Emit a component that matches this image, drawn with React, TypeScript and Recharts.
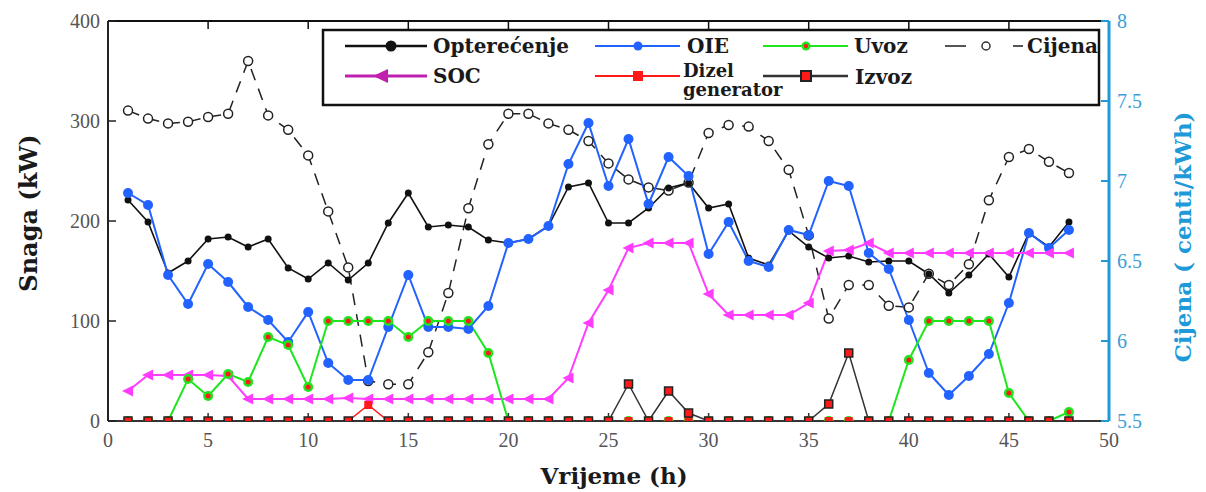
import React from "react";
import { ComposedChart, Line, XAxis, YAxis } from "recharts";

// sati (h)
const hours = [
  1, 2, 3, 4, 5, 6, 7, 8, 9, 10, 11, 12, 13, 14, 15, 16, 17, 18, 19, 20, 21, 22, 23, 24,
  25, 26, 27, 28, 29, 30, 31, 32, 33, 34, 35, 36, 37, 38, 39, 40, 41, 42, 43, 44, 45, 46, 47, 48,
];

// kW
const opterecenje = [
  221, 199, 148, 160, 182, 184, 174, 182, 153, 142, 158, 141, 158, 198, 228, 194, 196, 194, 181, 178, 182, 195, 234, 238,
  198, 198, 213, 233, 238, 213, 217, 163, 156, 190, 174, 163, 165, 159, 160, 160, 147, 128, 146, 167, 144, 188, 174, 199,
];
const oie = [
  228, 216, 146, 117, 157, 139, 114, 101, 79, 109, 58, 41, 41, 94, 146, 94, 94, 92, 115, 178, 182, 195, 257, 298,
  235, 282, 217, 264, 245, 167, 199, 160, 154, 191, 186, 240, 235, 168, 152, 101, 48, 26, 45, 67, 118, 188, 173, 191,
];
const uvoz = [
  0, 0, 0, 42, 25, 47, 39, 84, 76, 34, 100, 100, 100, 100, 84, 100, 100, 100, 68, 0, 0, 0, 0, 0,
  0, 0, 0, 0, 0, 0, 0, 0, 0, 0, 0, 0, 0, 0, 0, 61, 100, 100, 100, 100, 28, 0, 0, 9,
];
const soc = [
  30, 46, 46, 46, 46, 45, 22, 22, 22, 22, 22, 23, 22, 22, 22, 22, 22, 22, 22, 22, 22, 22, 43, 98,
  131, 173, 178, 178, 178, 127, 106, 106, 106, 106, 118, 170, 171, 178, 168, 168, 168, 168, 168, 168, 168, 168, 168, 168,
];
const dizel = [
  0, 0, 0, 0, 0, 0, 0, 0, 0, 0, 0, 0, 16, 0, 0, 0, 0, 0, 0, 0, 0, 0, 0, 0,
  0, 0, 0, 0, 0, 0, 0, 0, 0, 0, 0, 0, 0, 0, 0, 0, 0, 0, 0, 0, 0, 0, 0, 0,
];
const izvoz = [
  0, 0, 0, 0, 0, 0, 0, 0, 0, 0, 0, 0, 0, 0, 0, 0, 0, 0, 0, 0, 0, 0, 0, 0,
  0, 37, 0, 30, 8, 0, 0, 0, 0, 0, 0, 17, 68, 0, 0, 0, 0, 0, 0, 0, 0, 0, 0, 0,
];
// centi/kWh
const cijena = [
  7.44, 7.39, 7.36, 7.37, 7.4, 7.42, 7.75, 7.41, 7.32, 7.16, 6.81, 6.46, 5.75, 5.73, 5.73, 5.93, 6.3, 6.83, 7.23, 7.42, 7.42, 7.36, 7.32, 7.25,
  7.11, 7.01, 6.96, 6.94, 6.99, 7.3, 7.35, 7.34, 7.25, 7.07, 6.66, 6.14, 6.35, 6.35, 6.22, 6.21, 6.42, 6.35, 6.48, 6.88, 7.15, 7.2, 7.12, 7.05,
];

const xTicks = [0, 5, 10, 15, 20, 25, 30, 35, 40, 45, 50];
const leftTicks = [0, 100, 200, 300, 400];
const rightTicks = [5.5, 6, 6.5, 7, 7.5, 8];

const data = hours.map((h, i) => ({
  h,
  opterecenje: opterecenje[i],
  oie: oie[i],
  uvoz: uvoz[i],
  soc: soc[i],
  dizel: dizel[i],
  izvoz: izvoz[i],
  cijena: cijena[i],
}));

const BLUE = "#2262ff";
const GREEN = "#1ee61e";
const MAGENTA = "#ff3cff";
const RED = "#ff1a1a";
const AXBLUE = "#1e9ad8";

const TICKFONT = "Liberation Serif";
const boldFont = "DejaVu Serif";

// tick label renderers
const bottomTick = (p: any) => (
  <text x={p.x} y={p.y} dy="0.71em" textAnchor="middle" fontFamily={TICKFONT} fontSize={20} fill="#555">
    {p.payload.value}
  </text>
);
const leftTick = (p: any) => (
  <text x={p.x} y={p.y} dy="0.35em" textAnchor="end" fontFamily={TICKFONT} fontSize={20} fill="#555">
    {p.payload.value}
  </text>
);
const rightTick = (p: any) => (
  <text x={p.x} y={p.y} dy="0.35em" textAnchor="start" fontFamily={TICKFONT} fontSize={20} fill="#3a9fd6">
    {p.payload.value}
  </text>
);

const blackDot = (p: any) => <circle key={`b${p.index}`} cx={p.cx} cy={p.cy} r={3.5} fill="#111" />;
const blueDot = (p: any) => <circle key={`o${p.index}`} cx={p.cx} cy={p.cy} r={5} fill={BLUE} />;
const greenDot = (p: any) => (
  <g key={`g${p.index}`}>
    <circle cx={p.cx} cy={p.cy} r={5} fill={GREEN} />
    <circle cx={p.cx} cy={p.cy} r={2.5} fill={RED} />
  </g>
);
const openDot = (p: any) => (
  <circle key={`c${p.index}`} cx={p.cx} cy={p.cy} r={4.5} fill="#fff" stroke="#222" strokeWidth={1.5} />
);
const triDot = (p: any) => (
  <polygon
    key={`t${p.index}`}
    points={`${p.cx - 6},${p.cy} ${p.cx + 5},${p.cy - 5.5} ${p.cx + 5},${p.cy + 5.5}`}
    fill={MAGENTA}
  />
);
const redSq = (p: any) => <rect key={`d${p.index}`} x={p.cx - 4} y={p.cy - 4} width={8} height={8} fill={RED} />;
const izvozSq = (p: any) => (
  <rect key={`i${p.index}`} x={p.cx - 4} y={p.cy - 4} width={8} height={8} fill={RED} stroke="#222" strokeWidth={1.5} />
);

function Overlay() {
  const txt = { fontFamily: boldFont, fontWeight: 700, fontSize: 20, fill: "#1a1a1a" } as const;
  const small = { ...txt, fontSize: 18 } as const;
  return (
    <svg width={1206} height={492} style={{ position: "absolute", left: 0, top: 0, pointerEvents: "none" }}>
      {/* legend */}
      <rect x={323} y={30} width={776} height={75} fill="#fff" stroke="#111" strokeWidth={2.5} />
      <line x1={345} x2={427} y1={46} y2={46} stroke="#111" strokeWidth={2.5} />
      <circle cx={391} cy={46} r={5.5} fill="#111" />
      <text x={433} y={46} dominantBaseline="central" {...txt}>Opterećenje</text>

      <line x1={595} x2={680} y1={46} y2={46} stroke={BLUE} strokeWidth={2} />
      <circle cx={638} cy={46} r={4.5} fill={BLUE} />
      <text x={687} y={46} dominantBaseline="central" {...txt}>OIE</text>

      <line x1={763} x2={848} y1={46} y2={46} stroke={GREEN} strokeWidth={2} />
      <circle cx={806} cy={46} r={4.5} fill={GREEN} />
      <circle cx={806} cy={46} r={2.2} fill={RED} />
      <text x={854} y={46} dominantBaseline="central" {...txt}>Uvoz</text>

      <line x1={945} x2={966} y1={46} y2={46} stroke="#555" strokeWidth={2} />
      <circle cx={986} cy={46} r={4} fill="#fff" stroke="#333" strokeWidth={1.5} />
      <line x1={1013} x2={1023} y1={46} y2={46} stroke="#555" strokeWidth={2} />
      <text x={1027} y={46} dominantBaseline="central" {...txt}>Cijena</text>

      <line x1={345} x2={427} y1={76} y2={76} stroke="#c020b0" strokeWidth={3} />
      <polygon points="373,76 388,69 388,83" fill="#c020b0" />
      <text x={433} y={76} dominantBaseline="central" {...txt}>SOC</text>

      <line x1={595} x2={680} y1={76} y2={76} stroke={RED} strokeWidth={2} />
      <rect x={633} y={71} width={10} height={10} fill={RED} />
      <text x={683} y={70} dominantBaseline="central" {...small}>Dizel</text>
      <text x={683} y={89} dominantBaseline="central" {...small}>generator</text>

      <line x1={763} x2={848} y1={76} y2={76} stroke="#333" strokeWidth={2.5} />
      <rect x={801} y={71} width={10} height={10} fill={RED} stroke="#222" strokeWidth={2} />
      <text x={855} y={77} dominantBaseline="central" {...txt}>Izvoz</text>

      {/* axis titles */}
      <text
        x={28}
        y={213}
        transform="rotate(-90 28 213)"
        textAnchor="middle"
        dominantBaseline="central"
        fontFamily={boldFont}
        fontWeight={700}
        fontSize={24}
        fill="#1a1a1a"
      >
        Snaga (kW)
      </text>
      <text
        x={614}
        y={475}
        textAnchor="middle"
        dominantBaseline="central"
        fontFamily={boldFont}
        fontWeight={700}
        fontSize={23}
        fill="#1a1a1a"
      >
        Vrijeme (h)
      </text>
      <text
        x={1182}
        y={237}
        transform="rotate(-90 1182 237)"
        textAnchor="middle"
        dominantBaseline="central"
        fontFamily={boldFont}
        fontWeight={700}
        fontSize={23}
        fill={AXBLUE}
      >
        Cijena ( centi/kWh)
      </text>
    </svg>
  );
}

export default function App() {
  return (
    <div style={{ position: "absolute", left: 0, top: 0, width: 1206, height: 492, background: "#fff" }}>
      <ComposedChart width={1206} height={492} data={data} margin={{ top: 20, right: 37, bottom: 41, left: 48 }}>
        <XAxis
          xAxisId="main"
          type="number"
          dataKey="h"
          domain={[0, 50]}
          ticks={xTicks}
          height={30}
          tickSize={-8}
          tickMargin={20}
          tick={bottomTick}
          axisLine={{ stroke: "#333", strokeWidth: 2 }}
          tickLine={{ stroke: "#333", strokeWidth: 1.5 }}
          allowDataOverflow
        />
        <XAxis
          xAxisId="top"
          orientation="top"
          type="number"
          dataKey="h"
          domain={[0, 50]}
          ticks={xTicks}
          height={1}
          tickSize={-8}
          tickFormatter={() => ""}
          axisLine={{ stroke: "#111", strokeWidth: 2 }}
          tickLine={{ stroke: "#111", strokeWidth: 1.5 }}
        />
        <YAxis
          yAxisId="left"
          domain={[0, 400]}
          ticks={leftTicks}
          width={60}
          tickSize={-8}
          tickMargin={16}
          tick={leftTick}
          axisLine={{ stroke: "#222", strokeWidth: 2 }}
          tickLine={{ stroke: "#222", strokeWidth: 1.5 }}
          allowDataOverflow
        />
        <YAxis
          yAxisId="right"
          orientation="right"
          domain={[5.5, 8]}
          ticks={rightTicks}
          width={60}
          tickSize={-8}
          tickMargin={16}
          tick={rightTick}
          axisLine={{ stroke: AXBLUE, strokeWidth: 3 }}
          tickLine={{ stroke: AXBLUE, strokeWidth: 2 }}
          allowDataOverflow
        />

        <Line
          xAxisId="main"
          yAxisId="right"
          type="linear"
          dataKey="cijena"
          stroke="#222"
          strokeWidth={1.5}
          strokeDasharray="12 9"
          dot={openDot}
          activeDot={false}
          isAnimationActive={false}
        />
        <Line
          xAxisId="main"
          yAxisId="left"
          type="linear"
          dataKey="opterecenje"
          stroke="#111"
          strokeWidth={1.6}
          dot={blackDot}
          activeDot={false}
          isAnimationActive={false}
        />
        <Line
          xAxisId="main"
          yAxisId="left"
          type="linear"
          dataKey="oie"
          stroke={BLUE}
          strokeWidth={2}
          dot={blueDot}
          activeDot={false}
          isAnimationActive={false}
        />
        <Line
          xAxisId="main"
          yAxisId="left"
          type="linear"
          dataKey="soc"
          stroke={MAGENTA}
          strokeWidth={2}
          dot={triDot}
          activeDot={false}
          isAnimationActive={false}
        />
        <Line
          xAxisId="main"
          yAxisId="left"
          type="linear"
          dataKey="uvoz"
          stroke={GREEN}
          strokeWidth={2}
          dot={greenDot}
          activeDot={false}
          isAnimationActive={false}
        />
        <Line
          xAxisId="main"
          yAxisId="left"
          type="linear"
          dataKey="dizel"
          stroke={RED}
          strokeWidth={1.5}
          dot={redSq}
          activeDot={false}
          isAnimationActive={false}
        />
        <Line
          xAxisId="main"
          yAxisId="left"
          type="linear"
          dataKey="izvoz"
          stroke="#333"
          strokeWidth={1.5}
          dot={izvozSq}
          activeDot={false}
          isAnimationActive={false}
        />
      </ComposedChart>
      <Overlay />
    </div>
  );
}
